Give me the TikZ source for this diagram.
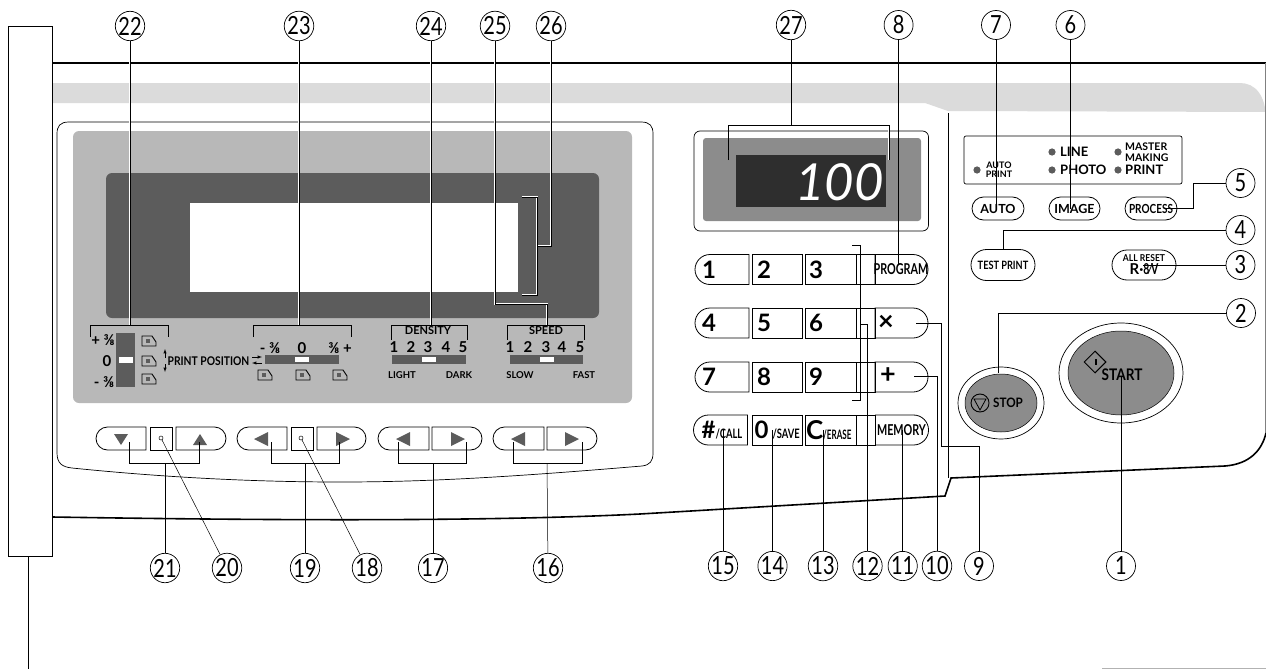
\documentclass[tikz,border=0pt]{standalone}
\usepackage{fontspec}
\setmainfont{Lato}
\usetikzlibrary{shapes.geometric,shapes.misc}
\definecolor{bandgray}{gray}{.86}
\definecolor{panelgray}{gray}{.72}
\definecolor{framegray}{gray}{.36}
\definecolor{startgray}{gray}{.55}
\definecolor{lcdgray}{gray}{.18}
\newcommand{\fsz}[1]{\fontsize{#1}{#1}\selectfont}
\tikzstyle{num}=[circle,draw=black,fill=white,line width=.7pt,minimum size=29,inner sep=0,font=\fsz{25}]
\tikzstyle{lead}=[draw=black,line width=.5pt]
\tikzstyle{leadw}=[lead,preaction={draw=white,line width=1.5pt}]
\tikzstyle{keyl}=[rounded rectangle,rounded rectangle right arc=none,draw=black,line width=.8pt,minimum width=54,minimum height=30,inner sep=0]
\tikzstyle{keyr}=[rounded rectangle,rounded rectangle left arc=none,draw=black,line width=.8pt,minimum width=53,minimum height=30,inner sep=0]
\tikzstyle{keym}=[rectangle,draw=black,line width=.8pt,minimum height=30,inner sep=0]
\tikzstyle{keypill}=[rounded rectangle,draw=black,line width=.8pt,inner sep=0]
\tikzstyle{lbl}=[inner sep=0,font=\fsz{11}]
\begin{document}
\begin{tikzpicture}[x=1pt,y=-1pt]
	\useasboundingbox (0,0) rectangle (1266,669);
	%body
	\fill[bandgray] (52,83) -- (1240,83) .. controls (1255,83) and (1266,95) .. (1266,120) -- (1266,112) -- (948,111) -- (925,103) -- (52,103) -- cycle;
	\draw[line width=1.6pt] (52,63) -- (1266,63);
	\draw[line width=.4pt,gray] (1265,63) -- (1265,433);
	\draw[line width=1.6pt] (52,517) .. controls (300,521) and (500,521) .. (640,514) -- (945,496) -- (951,478) -- (1225,466) .. controls (1250,464) and (1262,450) .. (1266,433);
	\draw[line width=.7pt] (948,113) -- (948,478);
	\draw[line width=.8pt,gray!60] (1102,668) -- (1266,668);
	%strip
	\node[rectangle,draw=black,fill=white,line width=.6pt,minimum width=44,minimum height=530,inner sep=0] (strip) at (30,291) {};
	\coordinate (stripend) at (28,669);
	\draw[lead] (strip.south -| stripend) -- (stripend);
	%left panel
	\draw[line width=.7pt] (69,122) -- (641,122) .. controls (650,122) and (653,126) .. (653,134) -- (653,453) .. controls (653,461) and (650,465) .. (642,466) .. controls (500,478) and (420,482) .. (340,482) .. controls (260,482) and (170,478) .. (72,468) .. controls (62,467) and (57,463) .. (57,453) -- (57,134) .. controls (57,126) and (60,122) .. (69,122) -- cycle;
	\fill[panelgray,rounded corners=6] (73,131) rectangle (632,403);
	\fill[framegray,rounded corners=6] (106,173) rectangle (599,318);
	\fill[white] (190,203) rectangle (518,292);
	%bars
	\fill[framegray] (116,333) rectangle (135,387);
	\fill[white] (119,357) rectangle (133,363);
	\foreach \xa/\xb/\xc in {265/339/295,392/466/422,510/583/540}{
		\fill[framegray] (\xa,355) rectangle (\xb,364);
		\fill[white] (\xc,357) rectangle (\xc+14,362);
	}
	%paper icons
	\foreach \x/\y in {149/341,149/361,149/379,265/375,303/375,340/375}{
		\draw[line width=.9pt] (\x+7,\y+1) -- (\x+7,\y+5) -- (\x-7,\y+5) -- (\x-7,\y-5) -- (\x+3,\y-5) -- cycle;
		\fill[framegray] (\x-3,\y-2) rectangle (\x+1,\y+2);
	}
	%panel labels
	\foreach \n/\t/\x/\y in {pa/+ ⅜/103/340,pb/0/107/361,pc/- ⅜/104/382,qa/- ⅜/270/348,qb/0/302/348,qc/⅜ +/340/348}
		\node[lbl,font=\fsz{15}\bfseries] (\n) at (\x,\y) {\t};
	\node[lbl,font=\fsz{12}\bfseries] (pos) at (208.5,361) {\scalebox{.86}[1]{PRINT POSITION}};
	\node[lbl,font=\bfseries\fsz{11}] (dens) at (428,331) {DENSITY};
	\node[lbl,font=\bfseries\fsz{11}] (spd) at (546,331) {SPEED};
	\foreach \i/\xa/\xb in {1/394/510,2/411/528,3/428/546,4/446/562,5/463/580}{
		\node[lbl,font=\fsz{15}\bfseries] (d\i) at (\xa,347) {\i};
		\node[lbl,font=\fsz{15}\bfseries] (s\i) at (\xb,347) {\i};
	}
	\foreach \n/\t/\x in {lgt/LIGHT/402,drk/DARK/459,slw/SLOW/520,fst/FAST/584}
		\node[lbl,font=\fsz{9.5}\bfseries] (\n) at (\x,375) {\t};
	%small arrows
	\draw[-latex,line width=.5pt] (165,358) -- (165,349);
	\draw[-latex,line width=.5pt] (165,364) -- (165,372);
	\draw[-latex,line width=.5pt] (252,357) -- (262,357);
	\draw[-latex,line width=.5pt] (262,363) -- (252,363);
	%brackets on the panel
	\foreach \xa/\xb/\yy in {90/168/337,253/351/337,391/467/340,507/584/340}
		\draw[lead] (\xa,\yy) |- (\xb,325) -- (\xb,\yy);
	%arrow keys
	\node[keyl,minimum width=50,minimum height=23] (adn) at (121,438.5) {};
	\node[keym,minimum width=22,minimum height=23] (adot) at (161,438.5) {};
	\node[keyr,minimum width=50,minimum height=23] (aup) at (201,438.5) {};
	\node[keyl,minimum width=50,minimum height=23] (bl) at (262,438.5) {};
	\node[keym,minimum width=22,minimum height=23] (bdot) at (302,438.5) {};
	\node[keyr,minimum width=49,minimum height=23] (br) at (341.5,438.5) {};
	\node[keyl,minimum width=51,minimum height=23] (cl) at (403.5,438.5) {};
	\node[keyr,minimum width=50,minimum height=23] (cr) at (457,438.5) {};
	\node[keyl,minimum width=51,minimum height=23] (el) at (518.5,438.5) {};
	\node[keyr,minimum width=50,minimum height=23] (er) at (572,438.5) {};
	\fill[framegray] (114,434) -- (128,434) -- (121,445) -- cycle;
	\fill[framegray] (193,445) -- (207,445) -- (200,434) -- cycle;
	\foreach \x in {261,403,518}
		\fill[framegray] (\x+7,432) -- (\x+7,446) -- (\x-7,439) -- cycle;
	\foreach \x in {343,458,572}
		\fill[framegray] (\x-7,432) -- (\x-7,446) -- (\x+7,439) -- cycle;
	\node[circle,draw=black,fill=white,line width=.5pt,minimum size=4,inner sep=0] (dotl) at (161,438) {};
	\node[circle,draw=black,fill=white,line width=.5pt,minimum size=4,inner sep=0] (dotr) at (301,438) {};
	%display
	\draw[line width=.7pt,rounded corners=6] (694,131) rectangle (928.5,231);
	\fill[startgray,rounded corners=3] (703,138) rectangle (921,221);
	\fill[lcdgray] (736,155) rectangle (886,207);
	\node[inner sep=0,text=white,font=\fsz{51}\itshape,anchor=east] (lcd) at (884,182) {100};
	%status panel
	\draw[line width=.7pt,rounded corners=2] (964,136) rectangle (1182,184);
	\foreach \x/\y in {977/170,1052/152,1052/170,1118/152,1118/170}
		\fill[framegray] (\x,\y) circle (3.6);
	\node[lbl,font=\fsz{9}\bfseries,align=center] (autop) at (999,170) {AUTO\\PRINT};
	\node[lbl,font=\fsz{13}\bfseries,anchor=west] (line) at (1060,152) {LINE};
	\node[lbl,font=\fsz{13}\bfseries,anchor=west] (photo) at (1060,170) {PHOTO};
	\node[lbl,font=\fsz{10.5}\bfseries,anchor=west,align=left] (master) at (1125,152) {MASTER\\MAKING};
	\node[lbl,font=\fsz{13}\bfseries,anchor=west] (print) at (1125,170) {PRINT};
	%mode keys
	\node[keypill,minimum width=52,minimum height=23,font=\fsz{12.5}\bfseries] (auto) at (998,208.5) {AUTO};
	\node[keypill,minimum width=51,minimum height=23,font=\fsz{12.5}\bfseries] (image) at (1074.5,208.5) {IMAGE};
	\node[keypill,minimum width=52,minimum height=23,font=\fsz{12.5}\bfseries] (proc) at (1151,208.5) {\scalebox{.8}[1]{PROCESS}};
	\node[keypill,minimum width=64,minimum height=31,font=\fsz{11.5}\bfseries] (test) at (1003,265) {\scalebox{.8}[1]{TEST PRINT}};
	\node[keypill,minimum width=64,minimum height=30,align=center,font=\fsz{9.5}\bfseries] (reset) at (1144,265) {\scalebox{.9}[1]{ALL RESET}\\[1pt]{\fsz{15}R·\scalebox{.7}[1]{8⁄V}}};
	%numeric keys
	\foreach \r/\y/\a/\b/\c in {1/269.5/1/2/3,2/323/4/5/6,3/377/7/8/9}{
		\node[keyl] (ka\r) at (722,\y) {};
		\node[keym,minimum width=50.5] (kb\r) at (777.25,\y) {};
		\node[keym,minimum width=70] (kc\r) at (840,\y) {};
		\node[keyr] (kd\r) at (901.5,\y) {};
		\draw[line width=.8pt] (856,\y-15) -- (856,\y+15);
		\node[lbl,font=\fsz{24}\bfseries] (na\r) at (709,\y) {\a};
		\node[lbl,font=\fsz{24}\bfseries] (nb\r) at (764,\y) {\b};
		\node[lbl,font=\fsz{24}\bfseries] (nc\r) at (816,\y) {\c};
	}
	\node[lbl,font=\fsz{15}\bfseries] (prog) at (901,269.5) {\scalebox{.72}[1]{PROGRAM}};
	\node[lbl,font=\fsz{27}\bfseries] (times) at (886,323) {×};
	\node[lbl,font=\fsz{27}\bfseries] (plus) at (888,376) {+};
	\node[keyl,font=\bfseries] (ka4) at (722,430) {\fsz{24}\#\scalebox{.72}[1]{\fsz{13}/CALL}};
	\node[keym,minimum width=50.5,font=\bfseries] (kb4) at (777.25,430) {\fsz{24}0\,\scalebox{.72}[1]{\fsz{13}/SAVE}};
	\node[keym,minimum width=70,text width=50,align=left,anchor=center,inner sep=0,font=\bfseries] (kc4) at (840,430) {\hspace*{-9pt}\fsz{26}C\scalebox{.62}[1]{\fsz{13}/ERASE}};
	\draw[line width=.8pt] (856,415) -- (856,445);
	\node[keyr,font=\bfseries] (kd4) at (901.5,430) {\scalebox{.72}[1]{\fsz{15}MEMORY}};
	%stop and start
	\draw[line width=.7pt] (1001,403) ellipse (43 and 36);
	\node[ellipse,draw=black,fill=startgray,line width=.5pt,minimum width=72,minimum height=58,inner sep=0] (stop) at (1001,403) {};
	\node[circle,draw=black,line width=.9pt,minimum size=18,inner sep=0] (stopc) at (980,403) {};
	\draw[line width=.8pt] (974,399) -- (986,399) -- (980,410) -- cycle;
	\node[lbl,font=\fsz{13}\bfseries] (stopt) at (1008,403) {\scalebox{.9}[1]{STOP}};
	\draw[line width=.7pt] (1121,373) ellipse (62 and 50);
	\node[ellipse,draw=black,fill=startgray,line width=.5pt,minimum width=106,minimum height=84,inner sep=0] (start) at (1121,373) {};
	\node[diamond,draw=black,line width=1pt,minimum size=22,inner sep=0] (startd) at (1095,362) {};
	\fill (1095,359) rectangle (1097,365);
	\node[lbl,font=\fsz{16}\bfseries] (startt) at (1122,375) {\scalebox{.85}[1]{START}};
	%callouts
	\foreach \n/\x/\y in {22/130/26,23/299/26,24/431/26,25/495/26,26/551/26,27/791/25,8/898.6/25,7/996/25,6/1070.5/25,
		5/1240.5/183,4/1240.5/230,3/1240.5/265,2/1241/313,1/1121/566,9/979/566,10/937/566,11/902.7/566,12/867.5/566,
		13/823/566,14/772.5/566,15/723/566,16/548/568,17/433/568,18/367/568,19/305/568,20/227/568,21/165/568}
		\node[num] (c\n) at (\x,\y) {\scalebox{.8}[1]{\n}};
	%upper leaders
	\foreach \n in {22,23,24}
		\draw[leadw] (c\n) -- (c\n |- 0,325);
	\coordinate (e25) at (547,325);
	\draw[leadw] (c25) |- (547,304) -- (e25);
	\coordinate (e26) at (522,197);
	\draw[leadw] (c26) |- (537,246);
	\draw[leadw] (e26) -| (537,295) -- (522,295);
	\coordinate (e27a) at (728.6,160);
	\coordinate (e27b) at (889,160);
	\draw[leadw] (e27a) -- (e27a |- 0,125) -- (e27b |- 0,125) -- (e27b);
	\draw[lead] (c27) -- (c27 |- 0,125);
	\draw[lead] (c8) -- (c8 |- prog.north);
	\draw[lead] (c7) -- (c7 |- auto);
	\draw[lead] (c6) -- (c6 |- image);
	\coordinate (e5) at (1166,208);
	\draw[lead] (c5.west) -- (1193,183) |- (e5);
	\draw[lead] (c4.west) -| (test);
	\coordinate (e3) at (1143,265);
	\draw[lead] (c3) -- (e3);
	\coordinate (e2) at (998.5,373);
	\draw[lead] (c2) -| (e2);
	\coordinate (e1) at (1121,377);
	\draw[lead] (c1) -- (e1);
	%keypad leaders
	\coordinate (e9) at (915.5,323);
	\coordinate (b9) at (941.4,446);
	\draw[lead] (c9) |- (b9) |- (e9);
	\coordinate (e10) at (913.5,376);
	\draw[lead] (c10) |- (e10);
	\draw[lead] (c11) -- (c11 |- kd4);
	\coordinate (e12) at (860,324);
	\draw[lead] (c12) |- (e12);
	\draw[lead] (852,245) -- (860,245) -- (860,400) -- (852,400);
	\draw[lead] (c13) -- (c13 |- kc4);
	\draw[lead] (c14) -- (c14 |- kb4);
	\draw[lead] (c15) -- (c15 |- ka4);
	%lower leaders
	\foreach \n/\xa/\xb/\xs in {21/129/199/165,19/271/339/305,17/398/466/433,16/513/582/547}{
		\coordinate (la\n) at (\xa,442);
		\coordinate (lb\n) at (\xb,442);
		\coordinate (ls\n) at (\xs,463);
		\draw[lead] (la\n) -- ++(0,21) -| (lb\n);
		\draw[lead] (c\n) -- (ls\n);
	}
	\draw[lead] (c20) -- (dotl);
	\draw[lead] (c18) -- (dotr);
\end{tikzpicture}
\end{document}
